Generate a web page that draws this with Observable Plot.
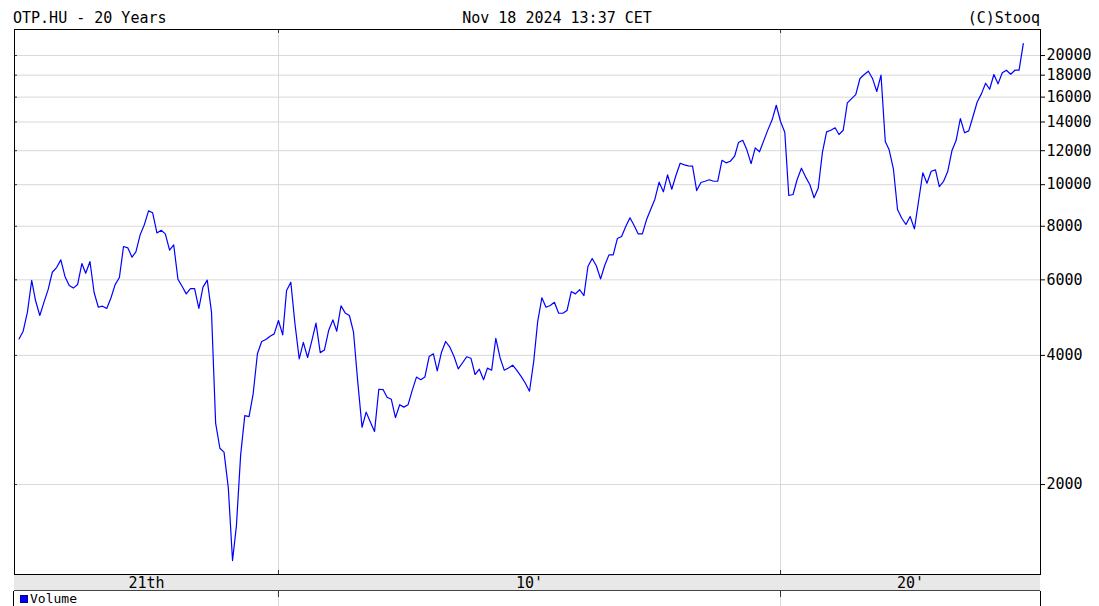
<!DOCTYPE html>
<html><head><meta charset="utf-8">
<script src="https://cdn.jsdelivr.net/npm/d3@7"></script>
<script src="https://cdn.jsdelivr.net/npm/@observablehq/plot@0.6"></script>
<style>
body{margin:0;background:#fff;}
#wrap{position:relative;width:1099px;height:606px;overflow:hidden;font-family:"DejaVu Sans Mono",monospace;font-size:15px;color:#000;}
.hdr{position:absolute;top:8px;line-height:20px;white-space:pre;}
#band{position:absolute;left:14px;top:574px;width:1026px;height:16px;background:#e8e8e8;border-bottom:1px solid #444;}
#volpanel{position:absolute;left:13px;top:591px;width:1026px;height:20px;border-left:1px solid #000;border-right:1px solid #000;}
#vol{position:absolute;left:20px;top:593px;font-size:13px;line-height:12px;white-space:pre;}
#vol .sq{display:inline-block;width:8px;height:8px;background:#0000ff;border:1px solid #000080;box-sizing:border-box;margin-right:2px;}
#wrap svg{position:absolute;left:0;top:0;}
</style></head>
<body>
<div id="wrap">
  <div id="band"></div>
  <div id="volpanel"></div>
  <div id="vol"><span class="sq"></span>Volume</div>
  <div class="hdr" id="h1" style="left:13px"></div>
  <div class="hdr" id="h2" style="left:0;width:1114px;text-align:center"></div>
  <div class="hdr" id="h3" style="right:59px"></div>
</div>
<script>
// ---- data ----
const ticker = "OTP.HU - 20 Years";
const stamp = "Nov 18 2024 13:37 CET";
const source = "(C)Stooq";
const firstMonth = "2004-11-01";
const closes = [
4370,4555,5045,5980,5370,4955,5315,5700,6250,6410,6680,6110,
5820,5740,5850,6550,6215,6620,5605,5180,5210,5145,5450,5850,
6075,7175,7125,6775,6975,7640,8060,8690,8600,7720,7830,7680,
7035,7240,6020,5790,5565,5725,5725,5150,5770,5990,5045,2780,
2430,2380,1970,1330,1600,2345,2895,2880,3255,4035,4310,4355,
4435,4490,4825,4465,5665,5925,4740,3925,4290,3955,4330,4755,
4060,4115,4570,4840,4555,5220,5025,4955,4530,3465,2720,2950,
2795,2660,3335,3330,3195,3160,2865,3070,3030,3070,3325,3560,
3510,3560,3975,4035,3680,4070,4310,4180,3975,3720,3845,3970,
3940,3610,3715,3510,3735,3695,4385,3950,3695,3740,3795,3690,
3575,3450,3300,3880,4780,5450,5180,5230,5320,5015,5015,5090,
5635,5565,5690,5515,6445,6730,6470,6030,6480,6860,6860,7490,
7570,7990,8370,8020,7680,7680,8280,8765,9250,10135,9625,10545,
9760,10505,11220,11125,11065,11050,9690,10115,10185,10265,10185,10185,
11400,11245,11340,11650,12535,12690,12055,11200,12185,11930,12670,13420,
14165,15315,14035,13250,9435,9485,10280,10925,10430,10010,9320,9810,
11905,13280,13395,13570,13090,13395,15510,15875,16220,17680,18065,18385,
17650,16490,18000,12605,12055,10890,8750,8350,8075,8430,7890,9150,
10660,10080,10750,10830,9900,10185,10730,12010,12670,14265,13210,13350,
14420,15565,16280,17240,16690,18065,17180,18230,18485,18095,18485,18485,
21320
];
const yTicks = [2000,4000,6000,8000,10000,12000,14000,16000,18000,20000];
const decadeStarts = ["2010-01-01","2020-01-01"];
const decadeLabels = ["21th","10'","20'"];
const xDomain = ["2004-09-29","2025-03-06"];
const yDomain = [1234, 23000];

// ---- build ----
document.getElementById("h1").textContent = ticker;
document.getElementById("h2").textContent = stamp;
document.getElementById("h3").textContent = source;

const start = new Date(firstMonth);
const data = closes.map((c, i) => ({date: d3.utcMonth.offset(start, i), close: c}));
const dStarts = decadeStarts.map(s => new Date(s));
const dom = xDomain.map(s => new Date(s));
const bounds = [dom[0], ...dStarts, dom[1]];
const labelPos = decadeLabels.map((l, i) => new Date((+bounds[i] + +bounds[i+1]) / 2));
const labelMap = new Map(labelPos.map((d, i) => [+d, decadeLabels[i]]));

const W = 1099, H = 606, mT = 29, mB = 32, mL = 14, mR = 59;
const plotH = H - mT - mB, plotW = W - mL - mR;

const chart = Plot.plot({
  width: W, height: H,
  marginTop: mT, marginBottom: mB, marginLeft: mL, marginRight: mR,
  style: {background: "transparent", fontFamily: "'DejaVu Sans Mono', monospace", fontSize: "15px", color: "#000", overflow: "visible"},
  x: {type: "utc", domain: dom, label: null},
  y: {type: "log", domain: yDomain, label: null},
  marks: [
    Plot.ruleY(yTicks, {stroke: "#d8d8d8", strokeWidth: 1}),
    Plot.ruleX(dStarts, {stroke: "#d8d8d8", strokeWidth: 1}),
    Plot.ruleX(dStarts, {stroke: "#d8d8d8", strokeWidth: 1, insetTop: plotH + 22, insetBottom: -40}),
    Plot.line(data, {x: "date", y: "close", stroke: "#0000ff", strokeWidth: 1.2}),
    Plot.ruleY(yTicks, {stroke: "#333", insetRight: plotW - 3}),
    Plot.ruleX(dStarts, {stroke: "#333", insetBottom: plotH - 4}),
    Plot.ruleX(dStarts, {stroke: "#333", insetTop: plotH - 4}),
    Plot.ruleX(dStarts, {stroke: "#333", insetTop: plotH + 17, insetBottom: -23}),
    Plot.frame({stroke: "#000", strokeWidth: 1}),
    Plot.axisY(yTicks, {anchor: "right", label: null, tickSize: 4, tickPadding: 2, tickFormat: d => String(d), fontSize: 15, stroke: "#000", fill: "#000"}),
    Plot.axisX(labelPos, {anchor: "bottom", label: null, tickSize: 0, tickPadding: 3, tickFormat: d => labelMap.get(+d), fontSize: 15, fill: "#000"})
  ]
});
document.getElementById("wrap").appendChild(chart);
</script>
</body></html>
